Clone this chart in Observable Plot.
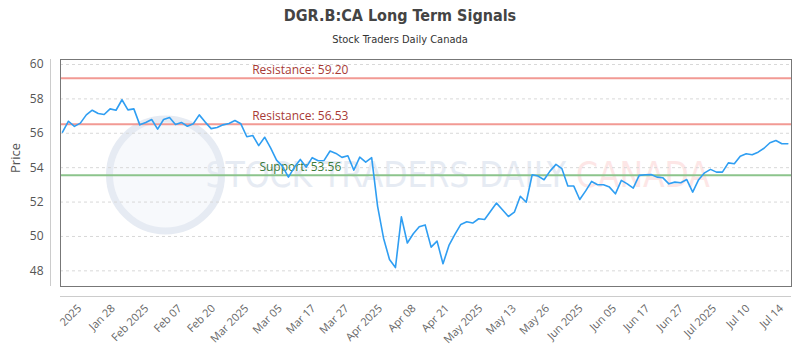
<!DOCTYPE html>
<html><head><meta charset="utf-8">
<script src="https://cdn.jsdelivr.net/npm/d3@7"></script>
<script src="https://cdn.jsdelivr.net/npm/@observablehq/plot@0.6"></script>
<style>
body{margin:0;background:#fff;}
#wrap{position:relative;width:800px;height:350px;}
#title{position:absolute;top:5px;left:0;width:800px;text-align:center;font-family:"Liberation Sans Narrow","DejaVu Sans Condensed",sans-serif;font-weight:bold;font-size:16px;color:#444;line-height:22px;}
#subtitle{position:absolute;top:32px;left:0;width:800px;text-align:center;font-family:"Liberation Sans Narrow","DejaVu Sans Condensed",sans-serif;font-size:11px;color:#333;line-height:16px;}
#chart{position:absolute;top:0;left:0;}
</style></head>
<body><div id="wrap"><div id="chart"></div><div id="title">DGR.B:CA Long Term Signals</div><div id="subtitle">Stock Traders Daily Canada</div></div>
<script>
const prices = [56.06,56.70,56.40,56.59,57.07,57.34,57.15,57.09,57.42,57.34,57.95,57.36,57.42,56.49,56.63,56.80,56.24,56.80,56.92,56.51,56.63,56.41,
56.55,57.07,56.65,56.27,56.34,56.49,56.57,56.74,56.55,55.80,55.87,55.28,55.77,55.15,54.44,54.08,53.45,54.02,54.48,54.03,54.58,54.40,54.42,54.97,54.83,54.60,54.69,53.86,54.61,54.32,54.58,
51.75,49.90,48.66,48.19,51.14,49.62,50.16,50.57,50.67,49.38,49.73,48.41,49.48,50.12,50.70,50.85,50.78,51.03,50.99,51.47,51.94,51.55,51.16,51.41,52.34,51.99,
53.59,53.51,53.30,53.80,54.19,53.94,52.93,52.93,52.15,52.65,53.20,53.01,53.01,52.87,52.48,53.26,53.06,52.81,53.55,53.59,53.60,53.45,53.41,53.06,53.16,53.12,53.31,52.58,53.30,53.70,53.90,53.74,53.74,54.28,54.23,54.67,54.81,54.75,54.90,55.13,55.45,55.58,55.39,55.39];
const tickLabels = ["2025","Jan 28","Feb 2025","Feb 07","Feb 20","Mar 2025","Mar 05","Mar 17","Mar 27","Apr 2025","Apr 08","Apr 21","May 2025","May 13","May 26","Jun 2025","Jun 05","Jun 17","Jun 27","Jul 2025","Jul 10","Jul 14"];
const yTicks = [48,50,52,54,56,58,60];
const resistance = [59.20, 56.53];
const support = [53.56];
const watermark = ["STOCK TRADERS DAILY ", "CANADA"];

const n = prices.length;
const data = prices.map((v, i) => ({i, v}));
const tickPos = tickLabels.map((_, k) => 2.9 + k * 5.62);
const labelAt = new Map(tickPos.map((p, k) => [p, tickLabels[k]]));
const xDomain = [-0.34, n - 1 + 0.62];
const yDomain = [47.09, 60.29];
const labelX = Math.round(n * 0.325);
const narrow = '"Liberation Sans Narrow","DejaVu Sans Condensed",sans-serif';

const plot = Plot.plot({
  width: 800, height: 350,
  marginLeft: 60, marginRight: 9, marginTop: 59, marginBottom: 64,
  style: {fontFamily: '"Open Sans",sans-serif', fontSize: "11px", color: "#666", background: "#fff"},
  x: {domain: xDomain, axis: null},
  y: {domain: yDomain, axis: null},
  marks: [
    Plot.dot([0], {frameAnchor: "left", dx: 105, dy: 2, r: 56, stroke: "#e6ebf3", strokeWidth: 7, fill: "#f5f7fb", fillOpacity: 0.8}),
    Plot.text([watermark.join("")], {frameAnchor: "left", dx: 145, dy: 3, text: d => d, textAnchor: "start", fontSize: 35, fontFamily: narrow, fill: "#e6ebf3", className: "wm"}),
    Plot.gridY(yTicks, {stroke: "#d8d8d8", strokeOpacity: 1, strokeDasharray: "3,3"}),
    Plot.ruleY(resistance, {stroke: "#f29a94", strokeWidth: 2}),
    Plot.ruleY(support, {stroke: "#8cc48c", strokeWidth: 2}),
    Plot.text(resistance, {x: labelX, y: d => d, text: d => `Resistance: ${d.toFixed(2)}`, dy: -8, fill: "#a83a36", fontSize: 12}),
    Plot.text(support, {x: labelX, y: d => d, text: d => `Support: ${d.toFixed(2)}`, dy: -8, fill: "#3a7a3a", fontSize: 12}),
    Plot.line(data, {x: "i", y: "v", stroke: "#2f9ef2", strokeWidth: 1.6}),
    Plot.frame({stroke: "#777"}),
    Plot.axisY(yTicks, {tickSize: 0, tickPadding: 17, fontSize: 12, fill: "#555", label: null}),
    Plot.axisX(tickPos, {tickSize: 0, tickPadding: 20, tickRotate: -45, fontSize: 11, fill: "#666", tickFormat: d => labelAt.get(d), label: null}),
    Plot.ruleX([xDomain[0]], {dx: -10, stroke: "#ccc"}),
    Plot.ruleY([yDomain[0]], {dy: 10, stroke: "#ccc"}),
    Plot.text(["Price"], {frameAnchor: "left", dx: -45, rotate: -90, text: d => d, fontSize: 13, fill: "#555"})
  ]
});
document.getElementById("chart").appendChild(plot);
// faint watermark: last word tinted red
const wm = d3.select(plot).select(".wm text");
wm.text(null);
wm.append("tspan").text(watermark[0]);
wm.append("tspan").attr("fill", "#fde6e6").text(watermark[1]);
</script>
</body></html>
